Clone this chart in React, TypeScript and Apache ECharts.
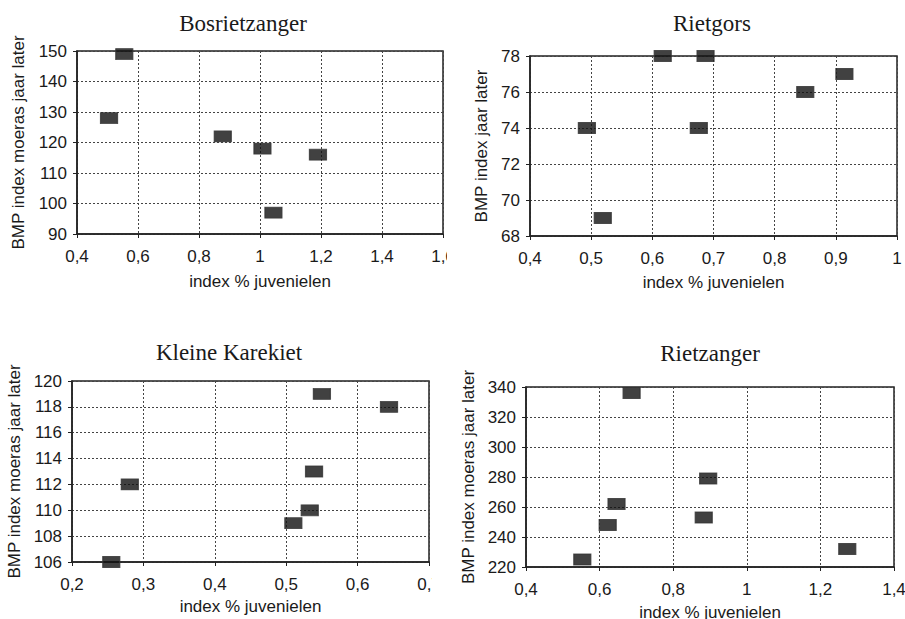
import React, { useEffect, useRef } from "react";
import * as echarts from "echarts";

// ---- data ----
const bosX = [0.505, 0.555, 0.878, 1.008, 1.19, 1.044];
const bosY = [128, 149, 122, 118, 116, 97];

const rgX = [0.617, 0.687, 0.493, 0.676, 0.85, 0.914, 0.519];
const rgY = [78, 78, 74, 74, 76, 77, 69];

const kkX = [0.255, 0.281, 0.51, 0.533, 0.539, 0.55, 0.644];
const kkY = [106, 112, 109, 110, 113, 119, 118];

const rzX = [0.553, 0.622, 0.646, 0.687, 0.883, 0.895, 1.273];
const rzY = [225, 248, 262, 336, 253, 279, 232];

const titles = ["Bosrietzanger", "Rietgors", "Kleine Karekiet", "Rietzanger"];
const xName = "index % juvenielen";
const yNames = [
  "BMP index moeras jaar later",
  "BMP index jaar later",
  "BMP index moeras jaar later",
  "BMP index moeras jaar later",
];

const SANS = "'Liberation Sans', Arial, sans-serif";
const SERIF = "'Liberation Serif', 'Times New Roman', serif";
const TXT = "#1a1a1a";

type Panel = {
  left: number; top: number; width: number; height: number;
  grid: { left: number; top: number; width: number; height: number };
  title: string; titleX: number; titleY: number;
  yName: string; yGap: number; xGap: number;
  xs: number[]; ys: number[];
  xMin: number; xMax: number; xInt: number;
  yMin: number; yMax: number; yInt: number;
};

const fmt = (v: number) => String(+v.toFixed(2)).replace(".", ",");

const panels: Panel[] = [
  {
    left: 0, top: 0, width: 447, height: 300,
    grid: { left: 77, top: 51, width: 366, height: 183 },
    title: titles[0], titleX: 243, titleY: 23,
    yName: yNames[0], yGap: 50, xGap: 39,
    xs: bosX, ys: bosY,
    xMin: 0.4, xMax: 1.6, xInt: 0.2, yMin: 90, yMax: 150, yInt: 10,
  },
  {
    left: 450, top: 0, width: 455, height: 300,
    grid: { left: 80, top: 56, width: 367, height: 180 },
    title: titles[1], titleX: 262, titleY: 23,
    yName: yNames[1], yGap: 38, xGap: 38,
    xs: rgX, ys: rgY,
    xMin: 0.4, xMax: 1.0, xInt: 0.1, yMin: 68, yMax: 78, yInt: 2,
  },
  {
    left: 0, top: 300, width: 432, height: 319,
    grid: { left: 72, top: 81, width: 357, height: 181 },
    title: titles[2], titleX: 229, titleY: 52,
    yName: yNames[2], yGap: 47, xGap: 36,
    xs: kkX, ys: kkY,
    xMin: 0.2, xMax: 0.7, xInt: 0.1, yMin: 106, yMax: 120, yInt: 2,
  },
  {
    left: 450, top: 300, width: 455, height: 319,
    grid: { left: 76, top: 87, width: 368, height: 180 },
    title: titles[3], titleX: 260, titleY: 53,
    yName: yNames[3], yGap: 49, xGap: 37,
    xs: rzX, ys: rzY,
    xMin: 0.4, xMax: 1.4, xInt: 0.2, yMin: 220, yMax: 340, yInt: 20,
  },
];

function buildOption(p: Panel) {
  const gridLine = { show: true, lineStyle: { color: "#444", type: [2, 2] as any, width: 1 } };
  const axisLine = { show: true, lineStyle: { color: "#222", width: 1.5 } };
  return {
    animation: false,
    backgroundColor: "#fff",
    grid: {
      ...p.grid,
      containLabel: false,
      outerBoundsMode: "none",
      show: true,
      borderColor: "#222",
      borderWidth: 1.5,
      backgroundColor: "transparent",
    },
    graphic: [
      {
        type: "text",
        x: p.titleX,
        y: p.titleY,
        style: {
          text: p.title,
          font: `23px ${SERIF}`,
          fill: TXT,
          align: "center",
          verticalAlign: "middle",
        },
      },
    ],
    xAxis: {
      type: "value",
      min: p.xMin,
      max: p.xMax,
      interval: p.xInt,
      name: xName,
      nameLocation: "middle",
      nameGap: p.xGap,
      nameTextStyle: { fontFamily: SANS, fontSize: 17, color: TXT },
      axisLine,
      axisTick: { show: true, length: 4, lineStyle: { color: "#222" } },
      axisLabel: {
        fontFamily: SANS, fontSize: 17, color: TXT, margin: 14,
        formatter: (v: number) => fmt(v),
        showMaxLabel: true, showMinLabel: true,
        hideOverlap: false,
      },
      splitLine: gridLine,
    },
    yAxis: {
      type: "value",
      min: p.yMin,
      max: p.yMax,
      interval: p.yInt,
      name: p.yName,
      nameLocation: "middle",
      nameGap: p.yGap,
      nameRotate: 90,
      nameTextStyle: { fontFamily: SANS, fontSize: 17, color: TXT },
      axisLine,
      axisTick: { show: true, length: 4, lineStyle: { color: "#222" } },
      axisLabel: {
        fontFamily: SANS, fontSize: 17, color: TXT, margin: 10,
        formatter: (v: number) => fmt(v),
      },
      splitLine: gridLine,
    },
    series: [
      {
        type: "scatter",
        clip: false,
        symbol: "rect",
        symbolSize: [17, 11],
        itemStyle: { color: "#111", borderColor: "#333", borderWidth: 1 },
        data: p.xs.map((x, i) => [x, p.ys[i]]),
      },
    ],
  };
}

function ChartPanel({ p }: { p: Panel }) {
  const ref = useRef<HTMLDivElement>(null);
  useEffect(() => {
    if (!ref.current) return;
    const chart = echarts.init(ref.current, undefined, { renderer: "svg" });
    chart.setOption(buildOption(p) as any);
    return () => chart.dispose();
  }, [p]);
  return (
    <div
      style={{
        position: "absolute",
        left: p.left,
        top: p.top,
        width: p.width,
        height: p.height,
        overflow: "hidden",
      }}
    >
      <div ref={ref} style={{ width: p.width, height: p.height }} />
    </div>
  );
}

export default function App() {
  return (
    <div
      style={{
        position: "absolute",
        left: 0,
        top: 0,
        width: 905,
        height: 619,
        background: "#fff",
        overflow: "hidden",
      }}
    >
      {panels.map((p, i) => (
        <ChartPanel key={i} p={p} />
      ))}
    </div>
  );
}
